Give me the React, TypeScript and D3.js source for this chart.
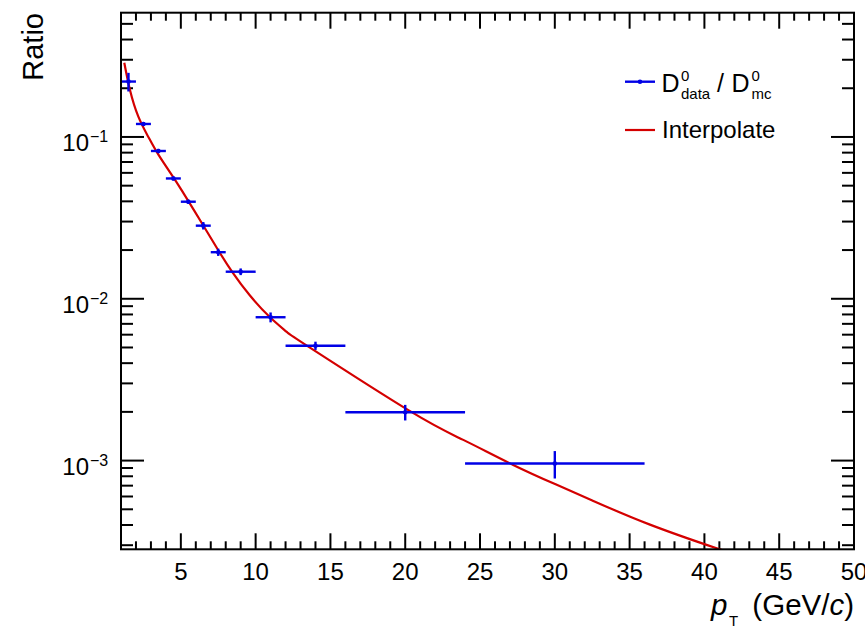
import React from "react";
import * as d3 from "d3";

const W = 865;
const H = 627;
const FONT = "'Liberation Sans', Arial, Helvetica, sans-serif";
const BLUE = "#0000e6";
const RED = "#d40000";

// Frame of the plotting area
const frame = { left: 121, right: 854, top: 12.7, bottom: 549.3 };

// Axis ranges
const xDomain = [1, 50];
const yDomain = [2.83e-4, 0.586];

// D0 data / MC ratio in pT bins
const binLow = [1, 2, 3, 4, 5, 6, 7, 8, 10, 12, 16, 24];
const binHigh = [2, 3, 4, 5, 6, 7, 8, 10, 12, 16, 24, 36];
const binCenter = [1.5, 2.5, 3.5, 4.5, 5.5, 6.5, 7.5, 9, 11, 14, 20, 30];
const ratio = [0.22, 0.1203, 0.0819, 0.0554, 0.0398, 0.0283, 0.0194, 0.0147, 0.00769, 0.00513, 0.00199, 0.00096];
const ratioErr = [0.029, 0.0035, 0.0025, 0.0016, 0.0012, 0.0015, 0.001, 0.0007, 0.00054, 0.0003, 0.00022, 0.000185];

// Interpolating curve
const curvePt = [1.22, 1.6, 2.16, 2.83, 3.49, 4.39, 5.06, 6.48, 7.48, 8.49, 9.62, 10.96, 12.08, 13.63, 20.32, 23.88, 27.22, 30.13, 32.47, 36.36, 40.82, 41.6];
const curveVal = [0.2877, 0.1952, 0.1335, 0.1, 0.07798, 0.05834, 0.04677, 0.02858, 0.02009, 0.01439, 0.01047, 0.00769, 0.00624, 0.00499, 0.00202, 0.001343, 0.00094, 0.000708, 0.000569, 0.000402, 0.000287, 0.000272];

// Tick definitions
const xMajor = [5, 10, 15, 20, 25, 30, 35, 40, 45, 50];
const xMajorLabels = ["5", "10", "15", "20", "25", "30", "35", "40", "45", "50"];
const yMajor = [1e-1, 1e-2, 1e-3];
const yMajorExp = ["\u22121", "\u22122", "\u22123"];

export default function App() {
  const x = d3.scaleLinear().domain(xDomain).range([frame.left, frame.right]);
  const y = d3.scaleLog().domain(yDomain).range([frame.bottom, frame.top]);

  const xMinor = d3.range(2, 50).filter((v) => v % 5 !== 0);
  const yMinor: number[] = [];
  for (const dec of [1e-4, 1e-3, 1e-2, 1e-1]) {
    for (let k = 2; k <= 9; k++) {
      const v = k * dec;
      if (v > yDomain[0] && v < yDomain[1]) yMinor.push(v);
    }
  }

  const line = d3
    .line<number>()
    .x((_, i) => x(curvePt[i]))
    .y((v) => y(v))
    .curve(d3.curveNatural);

  const majX = 16;
  const minX = 8;
  const majY = 23;
  const minY = 12;

  return (
    <svg
      width={W}
      height={H}
      style={{ position: "absolute", left: 0, top: 0, display: "block", background: "#fff" }}
      fontFamily={FONT}
    >
      <defs>
        <clipPath id="plotArea">
          <rect x={frame.left} y={frame.top} width={frame.right - frame.left} height={frame.bottom - frame.top} />
        </clipPath>
      </defs>

      {/* ticks on all four sides */}
      <g stroke="#000" strokeWidth={2}>
        {xMajor.map((v) => (
          <g key={"xM" + v}>
            <line x1={x(v)} x2={x(v)} y1={frame.bottom} y2={frame.bottom - majX} />
            <line x1={x(v)} x2={x(v)} y1={frame.top} y2={frame.top + majX} />
          </g>
        ))}
        {xMinor.map((v) => (
          <g key={"xm" + v}>
            <line x1={x(v)} x2={x(v)} y1={frame.bottom} y2={frame.bottom - minX} />
            <line x1={x(v)} x2={x(v)} y1={frame.top} y2={frame.top + minX} />
          </g>
        ))}
        {yMajor.map((v) => (
          <g key={"yM" + v}>
            <line x1={frame.left} x2={frame.left + majY} y1={y(v)} y2={y(v)} />
            <line x1={frame.right} x2={frame.right - majY} y1={y(v)} y2={y(v)} />
          </g>
        ))}
        {yMinor.map((v) => (
          <g key={"ym" + v}>
            <line x1={frame.left} x2={frame.left + minY} y1={y(v)} y2={y(v)} />
            <line x1={frame.right} x2={frame.right - minY} y1={y(v)} y2={y(v)} />
          </g>
        ))}
      </g>

      {/* interpolating curve */}
      <g clipPath="url(#plotArea)">
        <path d={line(curveVal) || ""} fill="none" stroke={RED} strokeWidth={2.2} />
      </g>

      {/* data points with bin widths and errors */}
      <g stroke={BLUE} strokeWidth={2.4} fill={BLUE}>
        {ratio.map((v, i) => (
          <g key={"pt" + i}>
            <line x1={x(binLow[i])} x2={x(binHigh[i])} y1={y(v)} y2={y(v)} />
            <line x1={x(binCenter[i])} x2={x(binCenter[i])} y1={y(v - ratioErr[i])} y2={y(v + ratioErr[i])} />
            <circle cx={x(binCenter[i])} cy={y(v)} r={2.3} stroke="none" />
          </g>
        ))}
      </g>

      {/* frame */}
      <rect
        x={frame.left}
        y={frame.top}
        width={frame.right - frame.left}
        height={frame.bottom - frame.top}
        fill="none"
        stroke="#000"
        strokeWidth={2}
      />

      {/* x tick labels */}
      <g fontSize={24} textAnchor="middle" fill="#000">
        {xMajor.map((v, i) => (
          <text key={"xl" + v} x={x(v)} y={579.5}>
            {xMajorLabels[i]}
          </text>
        ))}
      </g>

      {/* y tick labels */}
      <g fill="#000">
        {yMajor.map((v, i) => (
          <g key={"yl" + v}>
            <text x={89} y={y(v) + 14.5} fontSize={24} textAnchor="end">
              10
            </text>
            <text x={90} y={y(v) + 5} fontSize={16} textAnchor="start">
              {yMajorExp[i]}
            </text>
          </g>
        ))}
      </g>

      {/* axis titles */}
      <text transform="translate(43,13) rotate(-90)" fontSize={29} textAnchor="end" fill="#000">
        Ratio
      </text>
      <text x={711} y={615} fontSize={29.5} fontStyle="italic" fill="#000">
        p
      </text>
      <text x={729} y={625.5} fontSize={15} fill="#000">
        T
      </text>
      <text x={854} y={615} fontSize={29.5} textAnchor="end" fill="#000">
        (GeV/<tspan fontStyle="italic">c</tspan>)
      </text>

      {/* legend */}
      <g>
        <line x1={625} x2={655} y1={81.7} y2={81.7} stroke={BLUE} strokeWidth={2.4} />
        <circle cx={640} cy={81.7} r={2.3} fill={BLUE} />
        <line x1={625} x2={655} y1={130} y2={130} stroke={RED} strokeWidth={2.2} />
        <g fill="#000">
          <text x={661.5} y={92} fontSize={25}>D</text>
          <text x={681} y={81} fontSize={15}>0</text>
          <text x={681} y={99} fontSize={15}>data</text>
          <text x={717} y={92} fontSize={25}>/</text>
          <text x={731.5} y={92} fontSize={25}>D</text>
          <text x={751.5} y={81} fontSize={15}>0</text>
          <text x={751.5} y={99} fontSize={15}>mc</text>
          <text x={662} y={138} fontSize={24}>Interpolate</text>
        </g>
      </g>
    </svg>
  );
}
